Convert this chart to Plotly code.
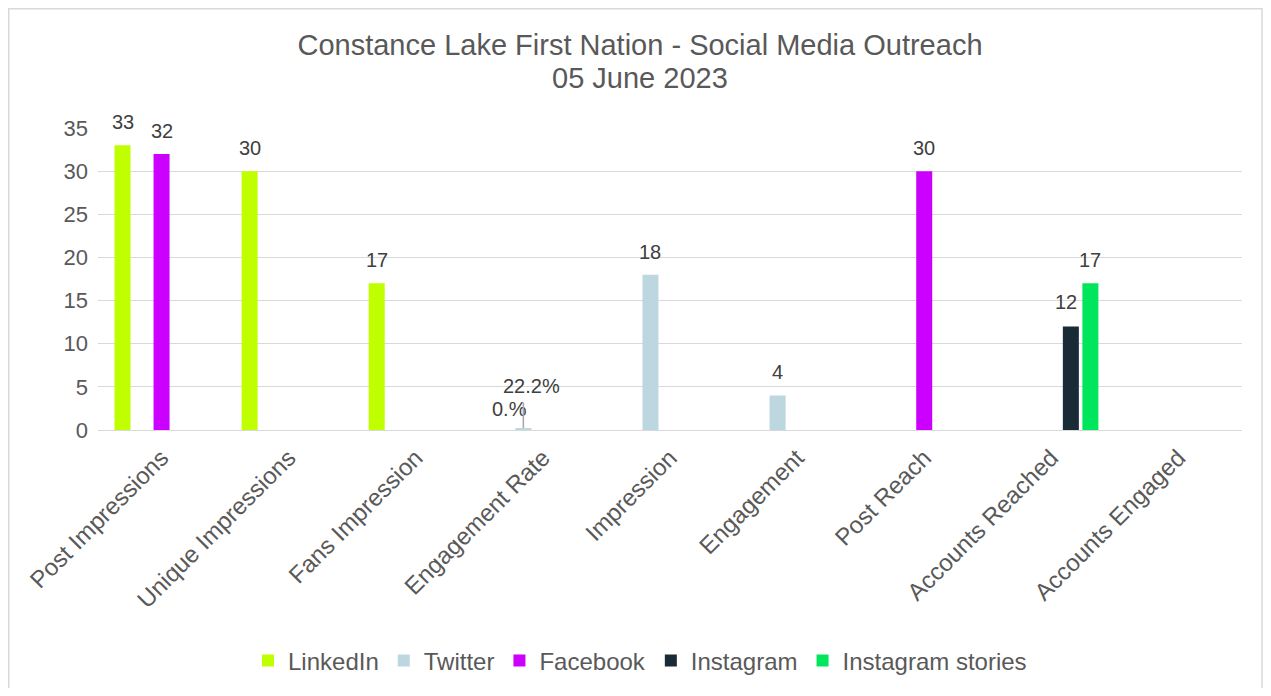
import plotly.graph_objects as go

categories = ["Post Impressions", "Unique Impressions", "Fans Impression", "Engagement Rate",
              "Impression", "Engagement", "Post Reach", "Accounts Reached", "Accounts Engaged"]

linkedin = [33, 30, 17, 0.0, None, None, None, None, None]
twitter = [None, None, None, 0.222, 18, 4, None, None, None]
facebook = [32, None, None, None, None, None, 30, None, None]
instagram = [None, None, None, None, None, None, None, 12, None]
instagram_stories = [None, None, None, None, None, None, None, 17, None]

linkedin_labels = ["33", "30", "17", "0.%", "", "", "", "", ""]
twitter_labels = ["", "", "", "22.2%", "18", "4", "", "", ""]
facebook_labels = ["32", "", "", "", "", "", "30", "", ""]
instagram_labels = ["", "", "", "", "", "", "", "12", ""]
stories_labels = ["", "", "", "", "", "", "", "17", ""]

title_line1 = "Constance Lake First Nation - Social Media Outreach"
title_line2 = "05 June 2023"

series_names = ["LinkedIn", "Twitter", "Facebook", "Instagram", "Instagram stories"]
series_values = [linkedin, twitter, facebook, instagram, instagram_stories]
series_labels = [linkedin_labels, twitter_labels, facebook_labels, instagram_labels, stories_labels]
colors = ["#BFFF00", "#BDD7E1", "#CC00FF", "#1A2B38", "#00E65C"]

W, H = 1255, 680
ML, MR, MT = 90, 21, 120
PH = 302
MB = H - MT - PH
BARGAP = 0.232
BARGROUPGAP = 0.18
FONT = "Liberation Sans, Arial, sans-serif"
GREY = "#595959"

fig = go.Figure()
for name, vals, col in zip(series_names, series_values, colors):
    fig.add_trace(go.Bar(name=name, x=categories, y=vals, marker=dict(color=col, line=dict(width=0)),
                         hoverinfo="x+y+name"))

# data labels as annotations positioned relative to their bars
pw = W - ML - MR
ph = PH
catw = pw / len(categories)
slot = catw * (1 - BARGAP) / len(series_names)
annotations = []
for si, (vals, labs) in enumerate(zip(series_values, series_labels)):
    off = (si - (len(series_names) - 1) / 2) * slot
    for ci, (v, lab) in enumerate(zip(vals, labs)):
        if v is None or lab == "":
            continue
        xs = off
        ys = 10
        if categories[ci] == "Engagement Rate":
            if series_names[si] == "Twitter":
                xs = off + 8
                ys = 29
                annotations.append(dict(x=categories[ci], y=v, xref="x", yref="y", xshift=off,
                                        text="", showarrow=True, arrowhead=0, arrowwidth=1.5,
                                        arrowcolor="#A6A6A6", ax=0, ay=-27, standoff=0))
            else:
                xs = off + 6
                ys = 8
        if series_names[si] == "Instagram":
            xs = off - 5
            ys = 11
        annotations.append(dict(x=categories[ci], y=v, xref="x", yref="y", xshift=xs, yshift=ys,
                                text=lab, showarrow=False, yanchor="bottom", xanchor="center",
                                font=dict(size=20, color="#404040", family=FONT)))

# second title line
annotations.append(dict(text=title_line2, xref="paper", yref="paper", x=(640 - 8 - ML) / pw,
                        y=1 + (MT - 70) / ph, xanchor="center", yanchor="middle", showarrow=False,
                        font=dict(size=29, color=GREY, family=FONT)))

fig.update_layout(
    width=W, height=H,
    margin=dict(l=ML, r=MR, t=MT, b=MB, autoexpand=False),
    paper_bgcolor="white", plot_bgcolor="white",
    barmode="group", bargap=BARGAP, bargroupgap=BARGROUPGAP,
    font=dict(family=FONT, color=GREY, size=22),
    title=dict(text=title_line1, x=(640 - 8) / W, xanchor="center", y=1 - 37 / H, yanchor="middle",
               font=dict(size=29, color=GREY, family=FONT)),
    xaxis=dict(type="category", tickangle=-45, showgrid=False, showline=False, ticks="",
               tickfont=dict(size=24, color=GREY), ticklabelstandoff=8, automargin=False),
    yaxis=dict(range=[0, 35], dtick=5, showgrid=True, gridcolor="#D9D9D9", gridwidth=1.3,
               zeroline=True, zerolinecolor="#D9D9D9", zerolinewidth=1.3, showline=False,
               ticks="", tickfont=dict(size=22, color=GREY), ticklabelstandoff=9, automargin=False),
    legend=dict(orientation="h", x=(640 - 8 - ML) / pw, xanchor="center", y=-231 / ph, yanchor="middle",
                font=dict(size=24, color=GREY), itemwidth=30, traceorder="normal"),
    annotations=annotations,
    showlegend=True,
)

# outer chart frame
fig.add_shape(type="rect", xref="paper", yref="paper",
              x0=(0.75 - ML) / pw, x1=(W - 1 - ML) / pw,
              y0=(-60 - MB) / ph, y1=(H - MB - 0.75) / ph,
              line=dict(color="#D9D9D9", width=1.5), fillcolor="rgba(0,0,0,0)", layer="below")

fig.write_html("out.html")
